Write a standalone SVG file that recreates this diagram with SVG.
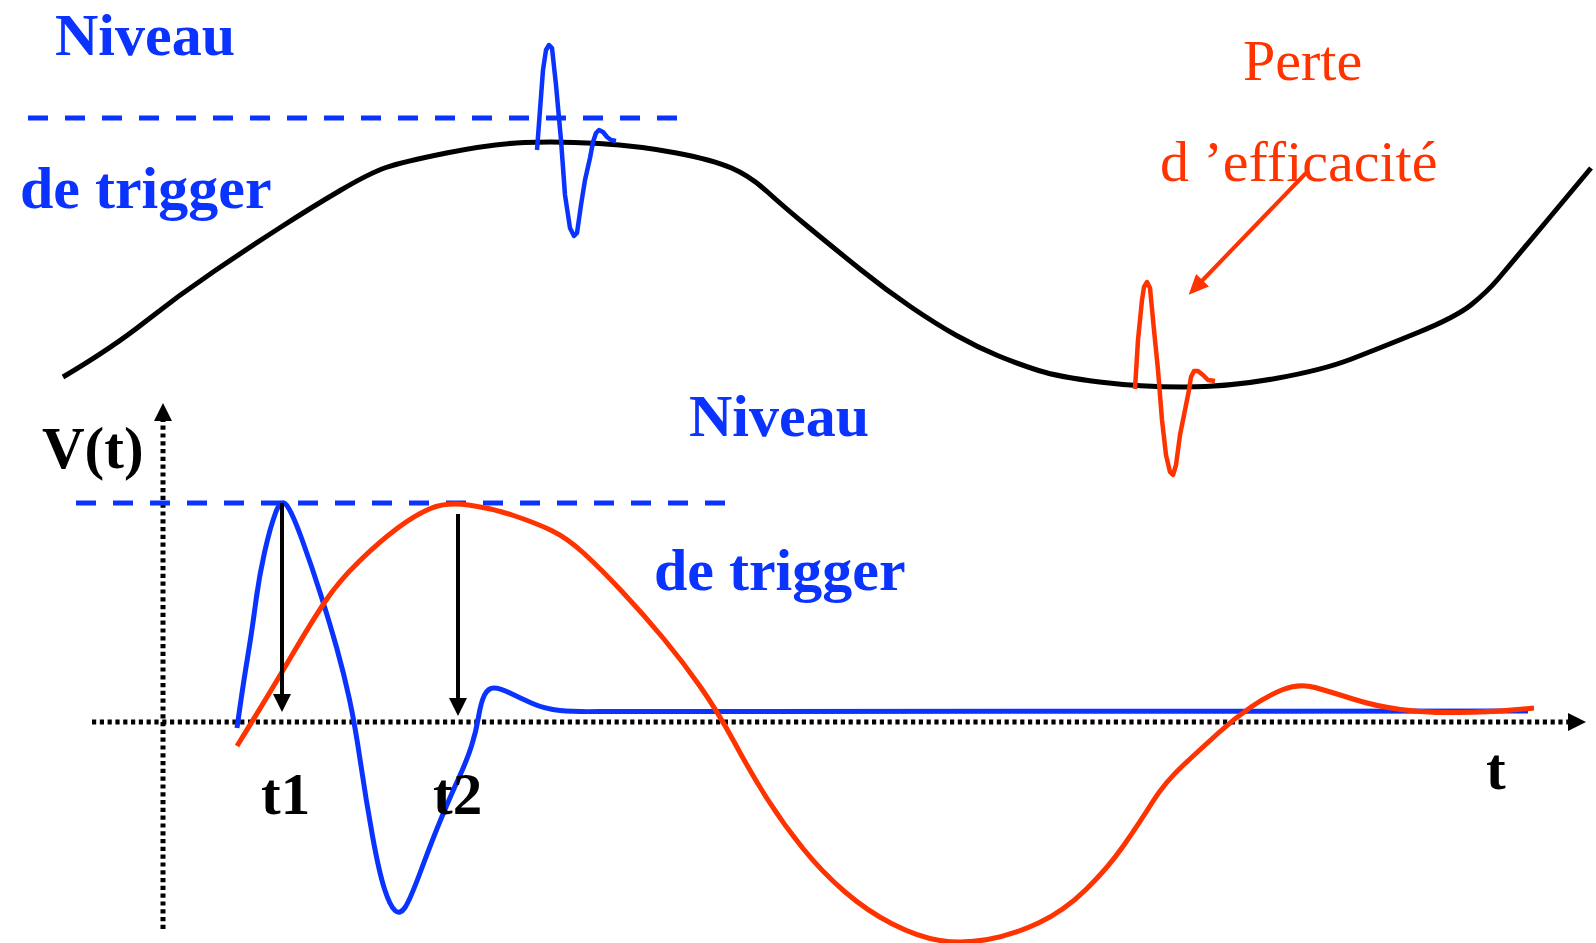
<svg xmlns="http://www.w3.org/2000/svg" width="1596" height="943" viewBox="0 0 1596 943">
<style>
.blueTxt{font-family:"Liberation Serif","Times New Roman",serif;font-weight:bold;font-size:60px;fill:#0a33ff}
.blackTxt{font-family:"Liberation Serif","Times New Roman",serif;font-weight:bold;font-size:59px;fill:#000}
.redTxt{font-family:"Liberation Serif","Times New Roman",serif;font-size:58px;fill:#ff3300}
.curve{fill:none;stroke-linejoin:round;stroke-linecap:butt}
.dash{stroke:#0a33ff;stroke-width:5;stroke-dasharray:20 17;fill:none}
.axis{stroke:#000;stroke-width:5;stroke-dasharray:4.2 3.6;fill:none}
</style>
<defs>
<marker id="arrK" markerUnits="userSpaceOnUse" viewBox="0 0 18 18" markerWidth="18" markerHeight="18" refX="6" refY="9" orient="auto">
<path d="M0,0 L18,9 L0,18 z" fill="#000" stroke="none"/>
</marker>
<marker id="arrR" markerUnits="userSpaceOnUse" viewBox="0 0 20 18" markerWidth="20" markerHeight="18" refX="8" refY="9" orient="auto">
<path d="M0,0 L20,9 L0,18 z" fill="#ff3300" stroke="none"/>
</marker>
</defs>

<g id="top-signal">
<path class="curve" stroke="#000" stroke-width="5" d="M63,377 Q112,348 145.5,321.5 Q179,295 214.5,271 Q250,247 281,227 Q312,207 341,190 Q370,173 386,167.5 Q402,162 446.5,153 Q491,144 524.5,142.5 Q558,141 599,143.5 Q640,146 676.5,153 Q713,160 731.5,168 Q750,176 767,191.5 Q784,207 809.5,228 Q835,249 860.5,269.5 Q886,290 911,307 Q936,324 956.5,335.5 Q977,347 997.5,355.5 Q1018,364 1038.5,370.5 Q1059,377 1099.5,382 Q1140,387 1184,387 Q1228,387 1275.5,378.5 Q1323,370 1351.5,359 Q1380,348 1418,332.5 Q1456,317 1471.5,304.5 Q1487,292 1498.5,278.5 Q1510,265 1550.5,216.5 L1591,168"/>
</g>

<g id="top-threshold">
<line class="dash" x1="28" y1="118" x2="683" y2="118"/>
<text class="blueTxt" x="55" y="55">Niveau</text>
<text class="blueTxt" x="20" y="208">de trigger</text>
</g>

<g id="blue-spike">
<polyline class="curve" stroke="#0a33ff" stroke-width="4.5" points="537,150 540,110 543,70 546,50 549,45 552,48 556,85 561,140 565,195 570,228 574,236 577,233 581,205 585,180 590,158 593,142 596,133 599,130 603,132 607,137 611,140 616,141"/>
</g>

<g id="red-spike">
<polyline class="curve" stroke="#ff3300" stroke-width="4.5" points="1135,389 1138,340 1142,300 1144,287 1147,282 1150,288 1154,330 1158,370 1162,420 1166,455 1170,472 1173,475 1176,465 1180,435 1185,410 1189,390 1191,377 1194,371 1198,371 1203,375 1208,380 1215,381"/>
</g>

<g id="loss-label">
<text class="redTxt" x="1243" y="80">Perte</text>
<text class="redTxt" x="1160" y="181">d ’efficacité</text>
</g>

<g id="axes">
<line class="axis" x1="163" y1="929" x2="163" y2="415" marker-end="url(#arrK)"/>
<line class="axis" x1="92" y1="722" x2="1574" y2="722" marker-end="url(#arrK)"/>
<text class="blackTxt" x="42" y="468">V(t)</text>
<text class="blackTxt" x="1486" y="789">t</text>
</g>

<g id="bottom-threshold">
<line class="dash" x1="76" y1="503" x2="731" y2="503"/>
<text class="blueTxt" x="689" y="436">Niveau</text>
<text class="blueTxt" x="654" y="590">de trigger</text>
</g>

<g id="blue-pulse">
<path class="curve" stroke="#0a33ff" stroke-width="5" d="M237,728 Q243,685 247.5,658 Q252,631 255.5,604 Q259,577 264.5,552.5 Q270,528 275.5,513 Q281,498 286.5,505 Q292,512 302,539.5 Q312,567 321,595.5 Q330,624 337,649 Q344,674 349.5,699.5 Q355,725 360.5,762.5 Q366,800 372.5,836 Q379,872 384.5,889 Q390,906 395,910.5 Q400,915 405,907.5 Q410,900 421.5,869 Q433,838 442,816.5 Q451,795 459,777.5 Q467,760 471.5,746 Q476,732 478.5,717 Q481,702 484.5,695 Q488,688 494,688 Q500,688 510,693 Q520,698 532.5,703.5 Q545,709 560,710.5 Q575,712 600,711.5 L1528,711"/>
</g>

<g id="red-pulse">
<path class="curve" stroke="#ff3300" stroke-width="5" d="M237,746 Q268,696 290,658.5 Q312,621 325.5,601 Q339,581 359,561.5 Q379,542 397,528.5 Q415,515 430.5,508.5 Q446,502 468.5,505 Q491,508 513.5,515.5 Q536,523 551.5,530.5 Q567,538 583.5,553 Q600,568 622,591.5 Q644,615 663.5,638.5 Q683,662 700.5,687 Q718,712 735,743.5 Q752,775 768,800 Q784,825 803,848.5 Q822,872 844.5,891.5 Q867,911 892.5,924 Q918,937 940,940.5 Q962,944 987.5,939.5 Q1013,935 1038.5,923 Q1064,911 1086,889.5 Q1108,868 1124,845 Q1140,822 1152.5,802 Q1165,782 1184.5,764 Q1204,746 1219.5,732 Q1235,718 1251,707 Q1267,696 1283,689.5 Q1299,683 1315,687.5 Q1331,692 1353,699 Q1375,706 1400.5,709.5 Q1426,713 1457.5,712.5 Q1489,712 1511.5,710 L1534,708"/>
</g>

<g id="connectors">
<line x1="282" y1="503" x2="282" y2="700" stroke="#000" stroke-width="4" marker-end="url(#arrK)"/>
<line x1="458" y1="514" x2="458" y2="704" stroke="#000" stroke-width="4" marker-end="url(#arrK)"/>
<line x1="1306" y1="173" x2="1197" y2="286" stroke="#ff3300" stroke-width="4" marker-end="url(#arrR)"/>
</g>

<g id="time-labels">
<text class="blackTxt" x="261" y="814">t1</text>
<text class="blackTxt" x="433" y="814">t2</text>
</g>
</svg>
